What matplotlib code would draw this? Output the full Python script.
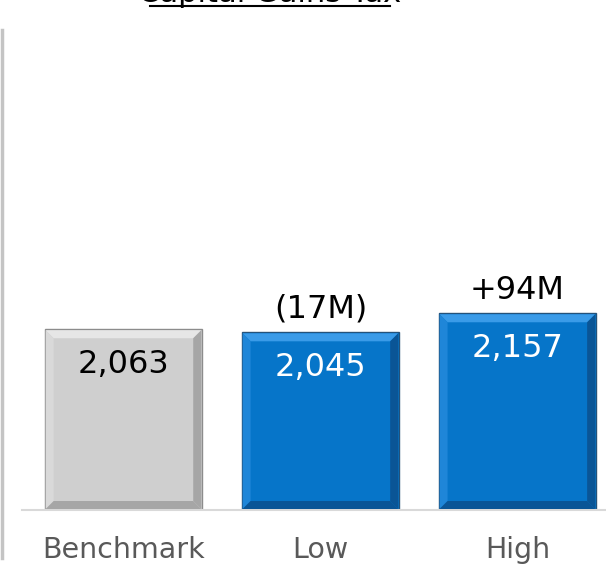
import matplotlib.pyplot as plt
from matplotlib.patches import Polygon
from matplotlib.lines import Line2D

# Data
categories = ["Benchmark", "Low", "High"]
values = [2063, 2045, 2157]
value_labels = ["2,063", "2,045", "2,157"]
delta_labels = ["", "(17M)", "+94M"]

face = ["#CFCFCF", "#0675C9", "#0675C9"]
light = ["#E6E6E6", "#3A9BE8", "#3A9BE8"]
side = ["#D9D9D9", "#1F86D8", "#1F86D8"]
dark = ["#A6A6A6", "#0A5596", "#0A5596"]
edge = ["#8C8C8C", "#24527A", "#24527A"]
text_col = ["black", "white", "white"]

plt.rcParams["font.family"] = ["DejaVu Sans"]

W, H = 606, 569
fig = plt.figure(figsize=(W / 100, H / 100), dpi=100)
ax = fig.add_axes([22 / W, 1 - 510 / H, 1 - 22 / W, 480 / H])

x = list(range(len(categories)))
bars = ax.bar(x, [v - 1000 for v in values], bottom=1000, width=0.8,
              color=face, edgecolor=edge, linewidth=1.0, zorder=2)
ax.set_xlim(-0.515, 2.45)
ax.set_ylim(1000, 3823)

for s in ["top", "right", "left"]:
    ax.spines[s].set_visible(False)
ax.spines["bottom"].set_color("#D9D9D9")
ax.spines["bottom"].set_linewidth(1.5)
ax.set_yticks([])
ax.set_xticks(x)
ax.set_xticklabels(categories, fontsize=20.5, color="#595959")
ax.tick_params(axis="x", length=0, pad=19)

# bevel edges, drawn in pixel space
fig.canvas.draw()
b = 8
for i, p in enumerate(bars):
    bb = p.get_window_extent()
    x0, y0, x1, y1 = bb.x0 + 1, bb.y0 + 1, bb.x1 - 1, bb.y1 - 1
    polys = [
        ([(x0, y1), (x1, y1), (x1 - b, y1 - b), (x0 + b, y1 - b)], light[i]),
        ([(x0, y0), (x0, y1), (x0 + b, y1 - b), (x0 + b, y0 + b)], side[i]),
        ([(x0, y0), (x1, y0), (x1 - b, y0 + b), (x0 + b, y0 + b)], dark[i]),
        ([(x1, y0), (x1, y1), (x1 - b, y1 - b), (x1 - b, y0 + b)], dark[i]),
    ]
    for pts, c in polys:
        fig.patches.append(Polygon(pts, closed=True, facecolor=c,
                                   edgecolor="none", transform=None,
                                   figure=fig, zorder=3))

for i, v in enumerate(values):
    ax.text(x[i], v - 115, value_labels[i], ha="center", va="top",
            fontsize=23, color=text_col[i], zorder=5)
    if delta_labels[i]:
        ax.text(x[i], v + 45, delta_labels[i], ha="center", va="bottom",
                fontsize=23, color="black", zorder=5)

# title, cut off at the top edge, with underline
fig.text(270 / W, 1 - 2 / H, "Capital Gains Tax", ha="center",
         va="baseline", fontsize=22, color="black")
fig.add_artist(Line2D([150 / W, 390 / W], [1 - 5.5 / H, 1 - 5.5 / H],
                      color="black", linewidth=1.5))

# left frame line
fig.add_artist(Line2D([2.5 / W, 2.5 / W], [1 - 30 / H, 1 - 558 / H],
                      color="#C4C4C4", linewidth=2.5))

plt.savefig("out.png", dpi=100)
plt.close()
